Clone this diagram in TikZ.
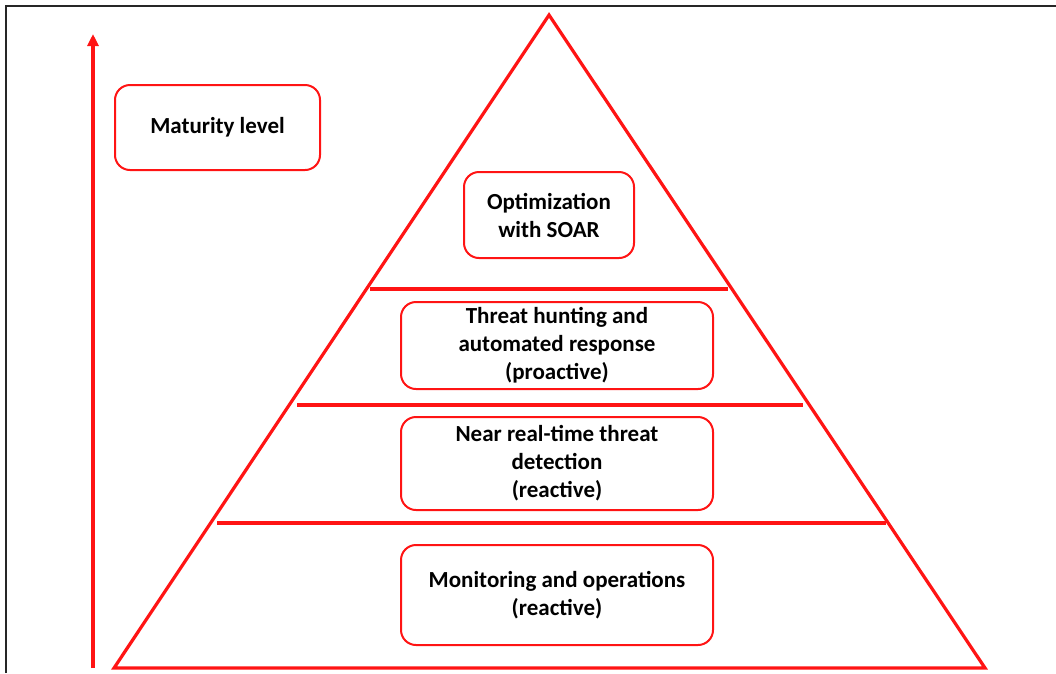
\documentclass[tikz,border=0pt]{standalone}
\usepackage{fontspec}
\setmainfont{Carlito}
\usetikzlibrary{arrows.meta}
\definecolor{pyrred}{RGB}{255,20,20}
\begin{document}
\begin{tikzpicture}[x=1pt,y=-1pt,
  redline/.style={draw=pyrred,line width=3.2pt},
  levelbox/.style={draw=pyrred,line width=2pt,rounded corners=15pt,align=center,
    font=\fontsize{23}{28}\selectfont\bfseries,inner sep=0pt},
]
\useasboundingbox (0,0) rectangle (1056,673);
% frame
\draw[line width=1.5pt,black!85] (6,673) -- (6,6) -- (1056,6);
% pyramid
\coordinate (apex) at (549,15);
\coordinate (bl) at (114,668);
\coordinate (br) at (985,668);
\draw[redline,line join=miter] (apex) -- (bl) -- (br) -- cycle;
% divider lines
\coordinate (l1a) at (370,289); \coordinate (l1b) at (728,289);
\coordinate (l2a) at (297,405); \coordinate (l2b) at (803,405);
\coordinate (l3a) at (217,523); \coordinate (l3b) at (886,523);
\draw[redline] (l1a) -- (l1b);
\draw[redline] (l2a) -- (l2b);
\draw[redline] (l3a) -- (l3b);
% arrow
\coordinate (arrbot) at (93,668);
\coordinate (arrtop) at (93,34);
\draw[redline,-{Triangle[length=12pt,width=11pt]}] (arrbot) -- (arrtop);
% boxes
\node[levelbox,minimum width=205pt,minimum height=85pt] (mat) at (217.5,127.5) {Maturity level};
\node[levelbox,minimum width=170pt,minimum height=86pt] (opt) at (549,215) {Optimization\\with SOAR};
\node[levelbox,minimum width=312pt,minimum height=87pt] (hunt) at (557,345.5) {Threat hunting and\\automated response\\(proactive)};
\node[levelbox,minimum width=312pt,minimum height=93pt] (near) at (557,463.5) {Near real-time threat\\detection\\(reactive)};
\node[levelbox,minimum width=312pt,minimum height=100pt] (mon) at (557,595) {Monitoring and operations\\(reactive)};
\end{tikzpicture}
\end{document}
